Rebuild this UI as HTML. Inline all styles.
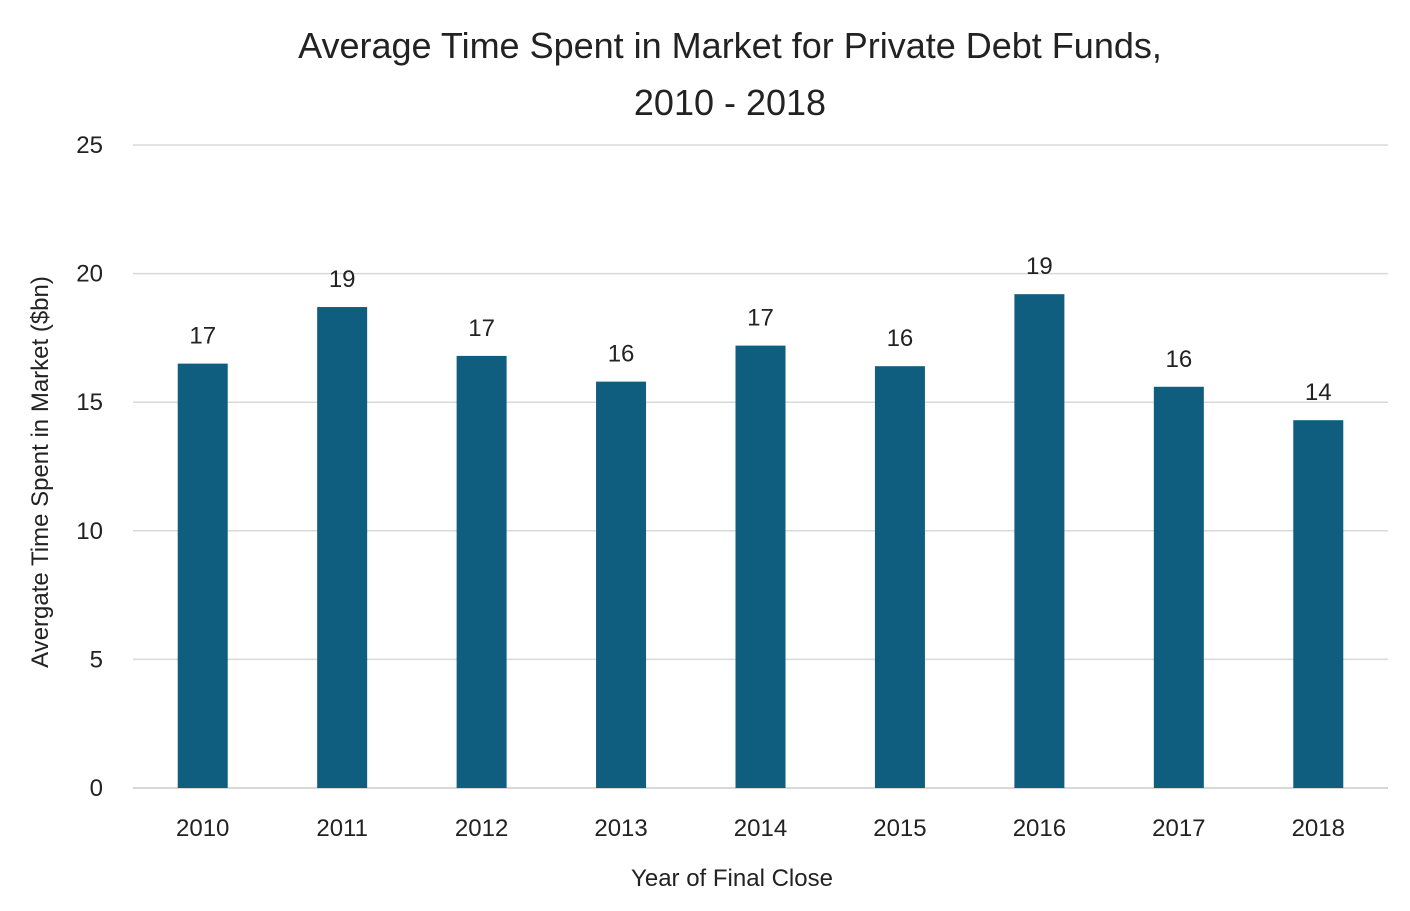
<!DOCTYPE html>
<html><head><meta charset="utf-8">
<style>
body{margin:0;background:#fff;}
svg text{font-family:"Liberation Sans",sans-serif;fill:#222;}
</style></head>
<body>
<svg id="chart" width="1410" height="906" xmlns="http://www.w3.org/2000/svg">
<text x="730" y="58" text-anchor="middle" font-size="36">Average Time Spent in Market for Private Debt Funds,</text>
<text x="730" y="115" text-anchor="middle" font-size="36">2010 - 2018</text>
<g id="grid"></g><g id="bars"></g>
<text transform="translate(48,472) rotate(-90)" text-anchor="middle" font-size="24">Avergate Time Spent in Market ($bn)</text>
<text x="732" y="886" text-anchor="middle" font-size="24">Year of Final Close</text>
</svg>
<script>
const categories=["2010","2011","2012","2013","2014","2015","2016","2017","2018"];
const values=[16.5,18.7,16.8,15.8,17.2,16.4,19.2,15.6,14.3];
const yTicks=[0,5,10,15,20,25];
const NS="http://www.w3.org/2000/svg";
const x0=133,x1=1388,yBase=788,yTop=145,yMax=25;
const y=v=>yBase-(v/yMax)*(yBase-yTop);
const band=(x1-x0)/categories.length;
const xc=i=>x0+band*(i+0.5);
const grid=document.getElementById('grid'),bars=document.getElementById('bars');
function mk(t,a,p){const e=document.createElementNS(NS,t);for(const k in a)e.setAttribute(k,a[k]);p.appendChild(e);return e;}
yTicks.forEach(t=>{
 const l=mk('line',{x1:x0,x2:x1,y1:y(t),y2:y(t),stroke:t===0?'#ccc':'#d9d9d9','stroke-width':1.5},grid);
 
 
 const tx=mk('text',{x:103,y:y(t)+8,'text-anchor':'end','font-size':24},grid);
 tx.textContent=t;
 
 
});
categories.forEach((c,i)=>{
 const v=values[i];
 const r=mk('rect',{x:xc(i)-25,y:y(v),width:50,height:yBase-y(v),fill:'#0f5e80'},bars);
 
 
 const lb=mk('text',{x:xc(i),y:y(v)-20,'text-anchor':'middle','font-size':24},bars);
 lb.textContent=Math.round(v);
 
 
 const xt=mk('text',{x:xc(i),y:836,'text-anchor':'middle','font-size':24},bars);
 xt.textContent=c;
 
 
});
</script>
</body></html>
